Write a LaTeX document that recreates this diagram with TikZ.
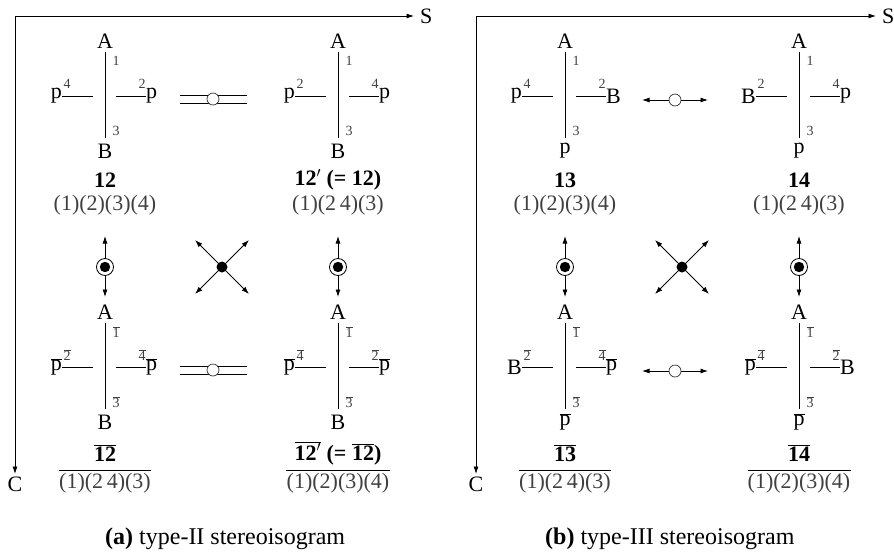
\documentclass[tikz,border=0pt]{standalone}
\usepackage{fontspec}
\setmainfont{Liberation Serif}
\usetikzlibrary{arrows.meta}

% overlined text (p-bar, digit-bar, bold-number-bar)
\newcommand\ovl[1]{\ensuremath{\overline{\mbox{#1}}}}
\newcommand\plain[1]{#1}

\tikzset{
  lig/.style={inner sep=0pt, font=\fontsize{22}{26}\selectfont},
  supnum/.style={inner sep=0pt, font=\fontsize{14}{16}\selectfont, text=black!75},
  nm/.style={inner sep=0pt, font=\fontsize{22}{26}\selectfont\bfseries},
  perm/.style={inner sep=0pt, font=\fontsize{22}{26}\selectfont, text=black!75},
  axislabel/.style={inner sep=0pt, font=\fontsize{22}{26}\selectfont},
  caption/.style={inner sep=0pt, font=\fontsize{24}{28}\selectfont, anchor=base west},
  bond/.style={line width=0.8pt},
  tip/.style={line width=0.8pt, -{Latex[length=7.5pt,width=5pt]}},
  twotip/.style={line width=0.8pt, {Latex[length=7.5pt,width=5pt]}-{Latex[length=7.5pt,width=5pt]}},
  odot/.style={circle, draw, line width=0.8pt, minimum size=17pt, inner sep=0pt,
    path picture={\fill (path picture bounding box.center) circle (5.2pt);}},
  fdot/.style={circle, fill, minimum size=11pt, inner sep=0pt},
  hollow/.style={circle, draw=black!80, fill=white, line width=0.7pt, minimum size=12pt, inner sep=0pt},
}

% one Fischer-type cross: prefix, x, y, bottom, left, left digit, right, right digit, digit format
\newcommand\isogram[9]{%
  \begin{scope}[shift={(#2,#3)}]
    \coordinate (#1-t) at (0,-44);
    \coordinate (#1-b) at (0,42);
    \coordinate (#1-hl) at (-12,0);
    \coordinate (#1-hr) at (11,0);
    \node[lig] (#1-A) at (0,-55) {A};
    \node[lig] (#1-B) at (0,55) {#4};
    \node[lig,anchor=east] (#1-L) at (-43,0) {#5};
    \node[lig,anchor=west] (#1-R) at (41,0) {#7};
    \node[supnum] (#1-sl) at (-38,-12) {#6};
    \node[supnum] (#1-sr) at (37,-12) {#8};
    \node[supnum] (#1-d1) at (11,-35) {#9{1}};
    \node[supnum] (#1-d3) at (11,35) {#9{3}};
    \draw[bond] (#1-t) -- (#1-b);
    \draw[bond] (#1-L.east) -- (#1-hl);
    \draw[bond] (#1-hr) -- (#1-R.west);
  \end{scope}}

% compound number and permutation below a cross: prefix, x, y, name, permutation
\newcommand\isoname[5]{%
  \node[nm] (#1-n) at (#2,#3+84) {#4};
  \node[perm] (#1-p) at (#2,#3+109) {#5};}
\newcommand\isonamebar[5]{%
  \node[nm] (#1-n) at (#2,#3+86) {#4};
  \node[perm] (#1-p) at (#2,#3+116) {#5};
  \draw[line width=0.7pt] ([yshift=2.5pt]#1-p.north west) -- ([yshift=2.5pt]#1-p.north east);}

\begin{document}
\begin{tikzpicture}[x=1pt,y=-1pt]
  \useasboundingbox (0,0) rectangle (894,552);

  % ---------------- (a) type-II ----------------
  \coordinate (a-o) at (15,16);
  \node[axislabel,anchor=west] (a-S) at (420,16) {S};
  \node[axislabel,anchor=north] (a-C) at (15,477) {C};
  \draw[tip,shorten >=6pt] (a-o) -- (a-S.west);
  \draw[tip,shorten >=3pt] (a-o) -- (a-C.north);

  \isogram{a11}{105}{96}{B}{p}{4}{p}{2}{\plain}
  \isoname{a11}{105}{96}{12}{(1)(2)(3)(4)}
  \isogram{a12}{338}{96}{B}{p}{2}{p}{4}{\plain}
  \isoname{a12}{338}{96}{12$'$ (= 12)}{(1)(2\,4)(3)}
  \isogram{a21}{105}{367}{B}{\ovl{p}}{\ovl{2}}{\ovl{p}}{\ovl{4}}{\ovl}
  \isonamebar{a21}{105}{367}{\ovl{\bfseries 12}}{(1)(2\,4)(3)}
  \isogram{a22}{338}{367}{B}{\ovl{p}}{\ovl{4}}{\ovl{p}}{\ovl{2}}{\ovl}
  \isonamebar{a22}{338}{367}{$\overline{\mbox{\bfseries 12}'}$ (= \ovl{\bfseries 12})}{(1)(2)(3)(4)}

  % equality links (pairs of parallel lines) between the crosses of a row
  \foreach \r/\y in {1/99,2/370} {
    \coordinate (a-e\r l) at (180,\y);
    \coordinate (a-e\r r) at (247,\y);
    \draw[bond] ([yshift=4pt]a-e\r l) -- ([yshift=4pt]a-e\r r);
    \draw[bond] ([yshift=-4pt]a-e\r l) -- ([yshift=-4pt]a-e\r r);
    \node[hollow] (a-e\r) at (213,\y) {};
  }

  % vertical links with circled dots
  \foreach \c/\x in {1/105,2/338} {
    \node[odot] (a-v\c) at (\x,267) {};
    \coordinate (a-v\c u) at (\x,236);
    \coordinate (a-v\c d) at (\x,297);
    \draw[tip] (a-v\c) -- (a-v\c u);
    \draw[tip] (a-v\c) -- (a-v\c d);
  }

  % diagonal cross
  \node[fdot] (a-x) at (222,267) {};
  \foreach \k/\dx/\dy in {1/-27/-27,2/27/-27,3/-27/27,4/27/27} {
    \coordinate (a-x\k) at (222+\dx,267+\dy);
    \draw[tip] (a-x) -- (a-x\k);
  }

  \node[caption] (a-cap) at (105,544) {\textbf{(a)} type-II stereoisogram};

  % ---------------- (b) type-III ----------------
  \coordinate (b-o) at (476,16);
  \node[axislabel,anchor=west] (b-S) at (882,16) {S};
  \node[axislabel,anchor=north] (b-C) at (476,477) {C};
  \draw[tip,shorten >=6pt] (b-o) -- (b-S.west);
  \draw[tip,shorten >=3pt] (b-o) -- (b-C.north);

  \isogram{b11}{565}{96}{p}{p}{4}{B}{2}{\plain}
  \isoname{b11}{565}{96}{13}{(1)(2)(3)(4)}
  \isogram{b12}{799}{96}{p}{B}{2}{p}{4}{\plain}
  \isoname{b12}{799}{96}{14}{(1)(2\,4)(3)}
  \isogram{b21}{565}{367}{\ovl{p}}{B}{\ovl{2}}{\ovl{p}}{\ovl{4}}{\ovl}
  \isonamebar{b21}{565}{367}{\ovl{\bfseries 13}}{(1)(2\,4)(3)}
  \isogram{b22}{799}{367}{\ovl{p}}{\ovl{p}}{\ovl{4}}{B}{\ovl{2}}{\ovl}
  \isonamebar{b22}{799}{367}{\ovl{\bfseries 14}}{(1)(2)(3)(4)}

  % two-headed links with hollow circles
  \foreach \r/\y in {1/100,2/371} {
    \coordinate (b-e\r l) at (642,\y);
    \coordinate (b-e\r r) at (708,\y);
    \draw[twotip] (b-e\r l) -- (b-e\r r);
    \node[hollow] (b-e\r) at (675,\y) {};
  }

  \foreach \c/\x in {1/565,2/799} {
    \node[odot] (b-v\c) at (\x,267) {};
    \coordinate (b-v\c u) at (\x,236);
    \coordinate (b-v\c d) at (\x,297);
    \draw[tip] (b-v\c) -- (b-v\c u);
    \draw[tip] (b-v\c) -- (b-v\c d);
  }

  \node[fdot] (b-x) at (682,267) {};
  \foreach \k/\dx/\dy in {1/-27/-27,2/27/-27,3/-27/27,4/27/27} {
    \coordinate (b-x\k) at (682+\dx,267+\dy);
    \draw[tip] (b-x) -- (b-x\k);
  }

  \node[caption] (b-cap) at (545,544) {\textbf{(b)} type-III stereoisogram};
\end{tikzpicture}
\end{document}
